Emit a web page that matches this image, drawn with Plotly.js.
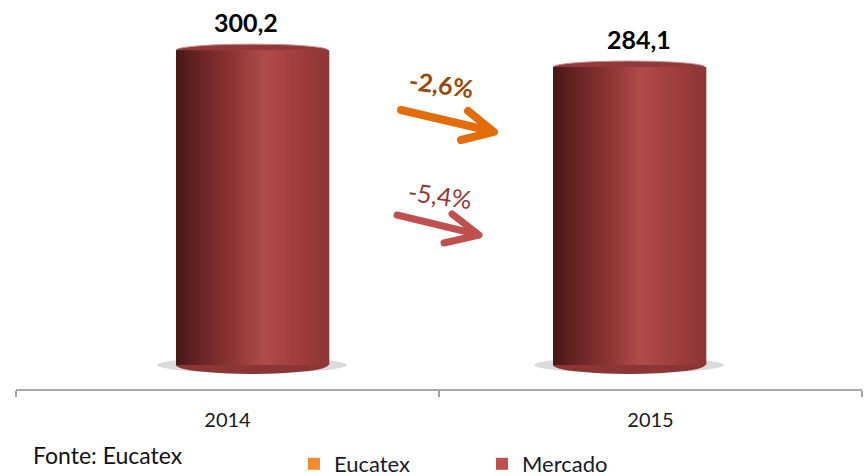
<!DOCTYPE html>
<html>
<head>
<meta charset="utf-8">
<script src="https://cdn.plot.ly/plotly-3.0.1.min.js"></script>
<style>
html,body{margin:0;padding:0;background:#fff;}
#chart{width:865px;height:476px;}
</style>
</head>
<body>
<div id="chart"></div>
<script>
// ---- data ----
const years = ['2014', '2015'];
const seriesNames = ['Eucatex', 'Mercado'];
const mercadoValues = [300.2, 284.1];
const eucatexValues = [null, null];     // no Eucatex bars shown in the chart
const eucatexChangePct = -2.6;          // label shown on orange arrow
const sourceText = 'Fonte: Eucatex';

// ---- styling ----
const W = 865, H = 476;
const M = {l: 16, r: 3, t: 0, b: 87, autoexpand: false};
const PW = W - M.l - M.r, PH = H - M.t - M.b;
const FONT = 'Lato, "Open Sans", sans-serif';
const barWidth = 0.403;          // in x2 category units
const nSlices = 40;
const stops = [
  [0.00, [70, 22, 22]],
  [0.12, [98, 34, 34]],
  [0.35, [138, 50, 50]],
  [0.58, [176, 76, 76]],
  [0.72, [166, 66, 66]],
  [0.88, [152, 58, 58]],
  [1.00, [142, 54, 54]]
];
function gradColor(t) {
  for (let i = 1; i < stops.length; i++) {
    if (t <= stops[i][0]) {
      const a = stops[i-1], b = stops[i];
      const f = (t - a[0]) / (b[0] - a[0]);
      const c = a[1].map((v, k) => Math.round(v + (b[1][k] - v) * f));
      return 'rgb(' + c.join(',') + ')';
    }
  }
  return 'rgb(' + stops[stops.length-1][1].join(',') + ')';
}
const fmt = v => v.toFixed(1).replace('.', ',');
const pct = v => (v > 0 ? '+' : '') + v.toFixed(1).replace('.', ',') + '%';
const mercadoChangePct = (mercadoValues[1] / mercadoValues[0] - 1) * 100;

const traces = [];
traces.push({
  type: 'bar', name: seriesNames[0], x: years, y: eucatexValues,
  xaxis: 'x', yaxis: 'y', marker: {color: '#f68b2c'}, hoverinfo: 'skip'
});
traces.push({
  type: 'bar', name: seriesNames[1], x: years, y: mercadoValues,
  xaxis: 'x2', yaxis: 'y', width: barWidth,
  marker: {color: '#c0504d', line: {width: 0}}, hoverinfo: 'skip'
});
const sw = barWidth / nSlices;
for (let i = 0; i < nSlices; i++) {
  traces.push({
    type: 'bar', x: years, y: mercadoValues, xaxis: 'x2', yaxis: 'y',
    width: sw * 1.35, offset: -barWidth / 2 + i * sw,
    marker: {color: gradColor((i + 0.5) / nSlices), line: {width: 0}},
    showlegend: false, hoverinfo: 'skip'
  });
}

// shapes: shadows, bottom caps, top caps (from data)
const shapes = [];
years.forEach((yr, i) => {
  shapes.push({type: 'circle', layer: 'below', xref: 'x2', yref: 'y',
    x0: i - barWidth / 2 - 0.05, x1: i + barWidth / 2 + 0.05,
    ysizemode: 'pixel', yanchor: 0, y0: -8, y1: 8,
    fillcolor: 'rgba(90,90,90,0.22)', line: {width: 0}});
  shapes.push({type: 'circle', layer: 'below', xref: 'x2', yref: 'y',
    x0: i - barWidth / 2, x1: i + barWidth / 2,
    ysizemode: 'pixel', yanchor: 0, y0: -9, y1: 9,
    fillcolor: '#8c3535', line: {width: 0}});
  shapes.push({type: 'circle', layer: 'below', xref: 'x2', yref: 'y',
    x0: i - barWidth / 2, x1: i + barWidth / 2,
    ysizemode: 'pixel', yanchor: mercadoValues[i], y0: -6, y1: 6,
    fillcolor: '#93393a', line: {width: 1, color: 'rgba(205,140,140,0.9)'}});
});

// arrows (decorations in pixel positions converted to paper)
const px = x => (x - M.l) / PW;
const py = y => (H - M.b - y) / PH;
function pth(pts) {
  return 'M' + pts.map(p => px(p[0]).toFixed(4) + ',' + py(p[1]).toFixed(4)).join(' L');
}
const arrows = [
  {color: '#e46c0a', w: 8, shaft: [[401, 110], [491, 131]], head: [[468, 111], [494, 132], [461, 140]]},
  {color: '#c0504d', w: 7, shaft: [[397, 215], [476, 234]], head: [[452, 214], [479, 235], [444, 243]]}
];
arrows.forEach(a => {
  shapes.push({type: 'path', xref: 'paper', yref: 'paper', path: pth(a.shaft),
    line: {color: a.color, width: a.w}});
  shapes.push({type: 'path', xref: 'paper', yref: 'paper', path: pth(a.head),
    line: {color: a.color, width: a.w}});
});

const annotations = [];
const labelShift = [-6, 10];
years.forEach((yr, i) => {
  annotations.push({xref: 'x2', yref: 'y', x: i, y: mercadoValues[i],
    text: '<b>' + fmt(mercadoValues[i]) + '</b>', showarrow: false,
    xshift: labelShift[i], yshift: 28, yanchor: 'middle',
    font: {family: FONT, size: 25, color: '#000'}});
});
annotations.push({xref: 'paper', yref: 'paper', x: px(441), y: py(84),
  xanchor: 'center', yanchor: 'middle',
  text: '<b>' + pct(eucatexChangePct) + '</b>', showarrow: false, textangle: 8,
  font: {family: FONT, size: 25, color: '#984807'}});
annotations.push({xref: 'paper', yref: 'paper', x: px(440), y: py(195),
  xanchor: 'center', yanchor: 'middle',
  text: pct(mercadoChangePct), showarrow: false, textangle: 8,
  font: {family: FONT, size: 25, color: '#953735'}});
annotations.push({xref: 'paper', yref: 'paper', x: px(31), y: py(455),
  xanchor: 'left', yanchor: 'middle', text: sourceText, showarrow: false,
  font: {family: FONT, size: 23, color: '#111'}});

const layout = {
  width: W, height: H, margin: M,
  paper_bgcolor: '#fff', plot_bgcolor: '#fff',
  barmode: 'overlay', showlegend: true,
  font: {family: FONT, color: '#222'},
  xaxis: {type: 'category', categoryorder: 'array', categoryarray: years,
    range: [-0.5, 1.5], tickson: 'boundaries', ticks: 'outside', ticklen: 6,
    tickcolor: '#a0a0a0', tickwidth: 2, showline: true, linecolor: '#a8a8a8', linewidth: 2,
    showgrid: false, zeroline: false, fixedrange: true, automargin: false,
    tickfont: {family: FONT, size: 20, color: '#1a1a1a'}, ticklabelstandoff: 12},
  xaxis2: {type: 'category', categoryorder: 'array', categoryarray: years,
    overlaying: 'x', anchor: 'y', range: [-0.626, 1.618], visible: false, fixedrange: true},
  yaxis: {range: [-22.9, 348], visible: false, showgrid: false, zeroline: false, fixedrange: true},
  legend: {orientation: 'h', x: px(294), xanchor: 'left', y: py(464), yanchor: 'middle',
    entrywidth: 143, font: {family: FONT, size: 22, color: '#1a1a2a'}, bgcolor: 'rgba(0,0,0,0)'},
  shapes: shapes, annotations: annotations
};

Plotly.newPlot('chart', traces, layout, {staticPlot: true, displayModeBar: false}).then(() => {
  document.querySelectorAll('.layer-above .shapelayer path').forEach(p => {
    p.style.strokeLinecap = 'round';
    p.style.strokeLinejoin = 'round';
  });
});
</script>
</body>
</html>
